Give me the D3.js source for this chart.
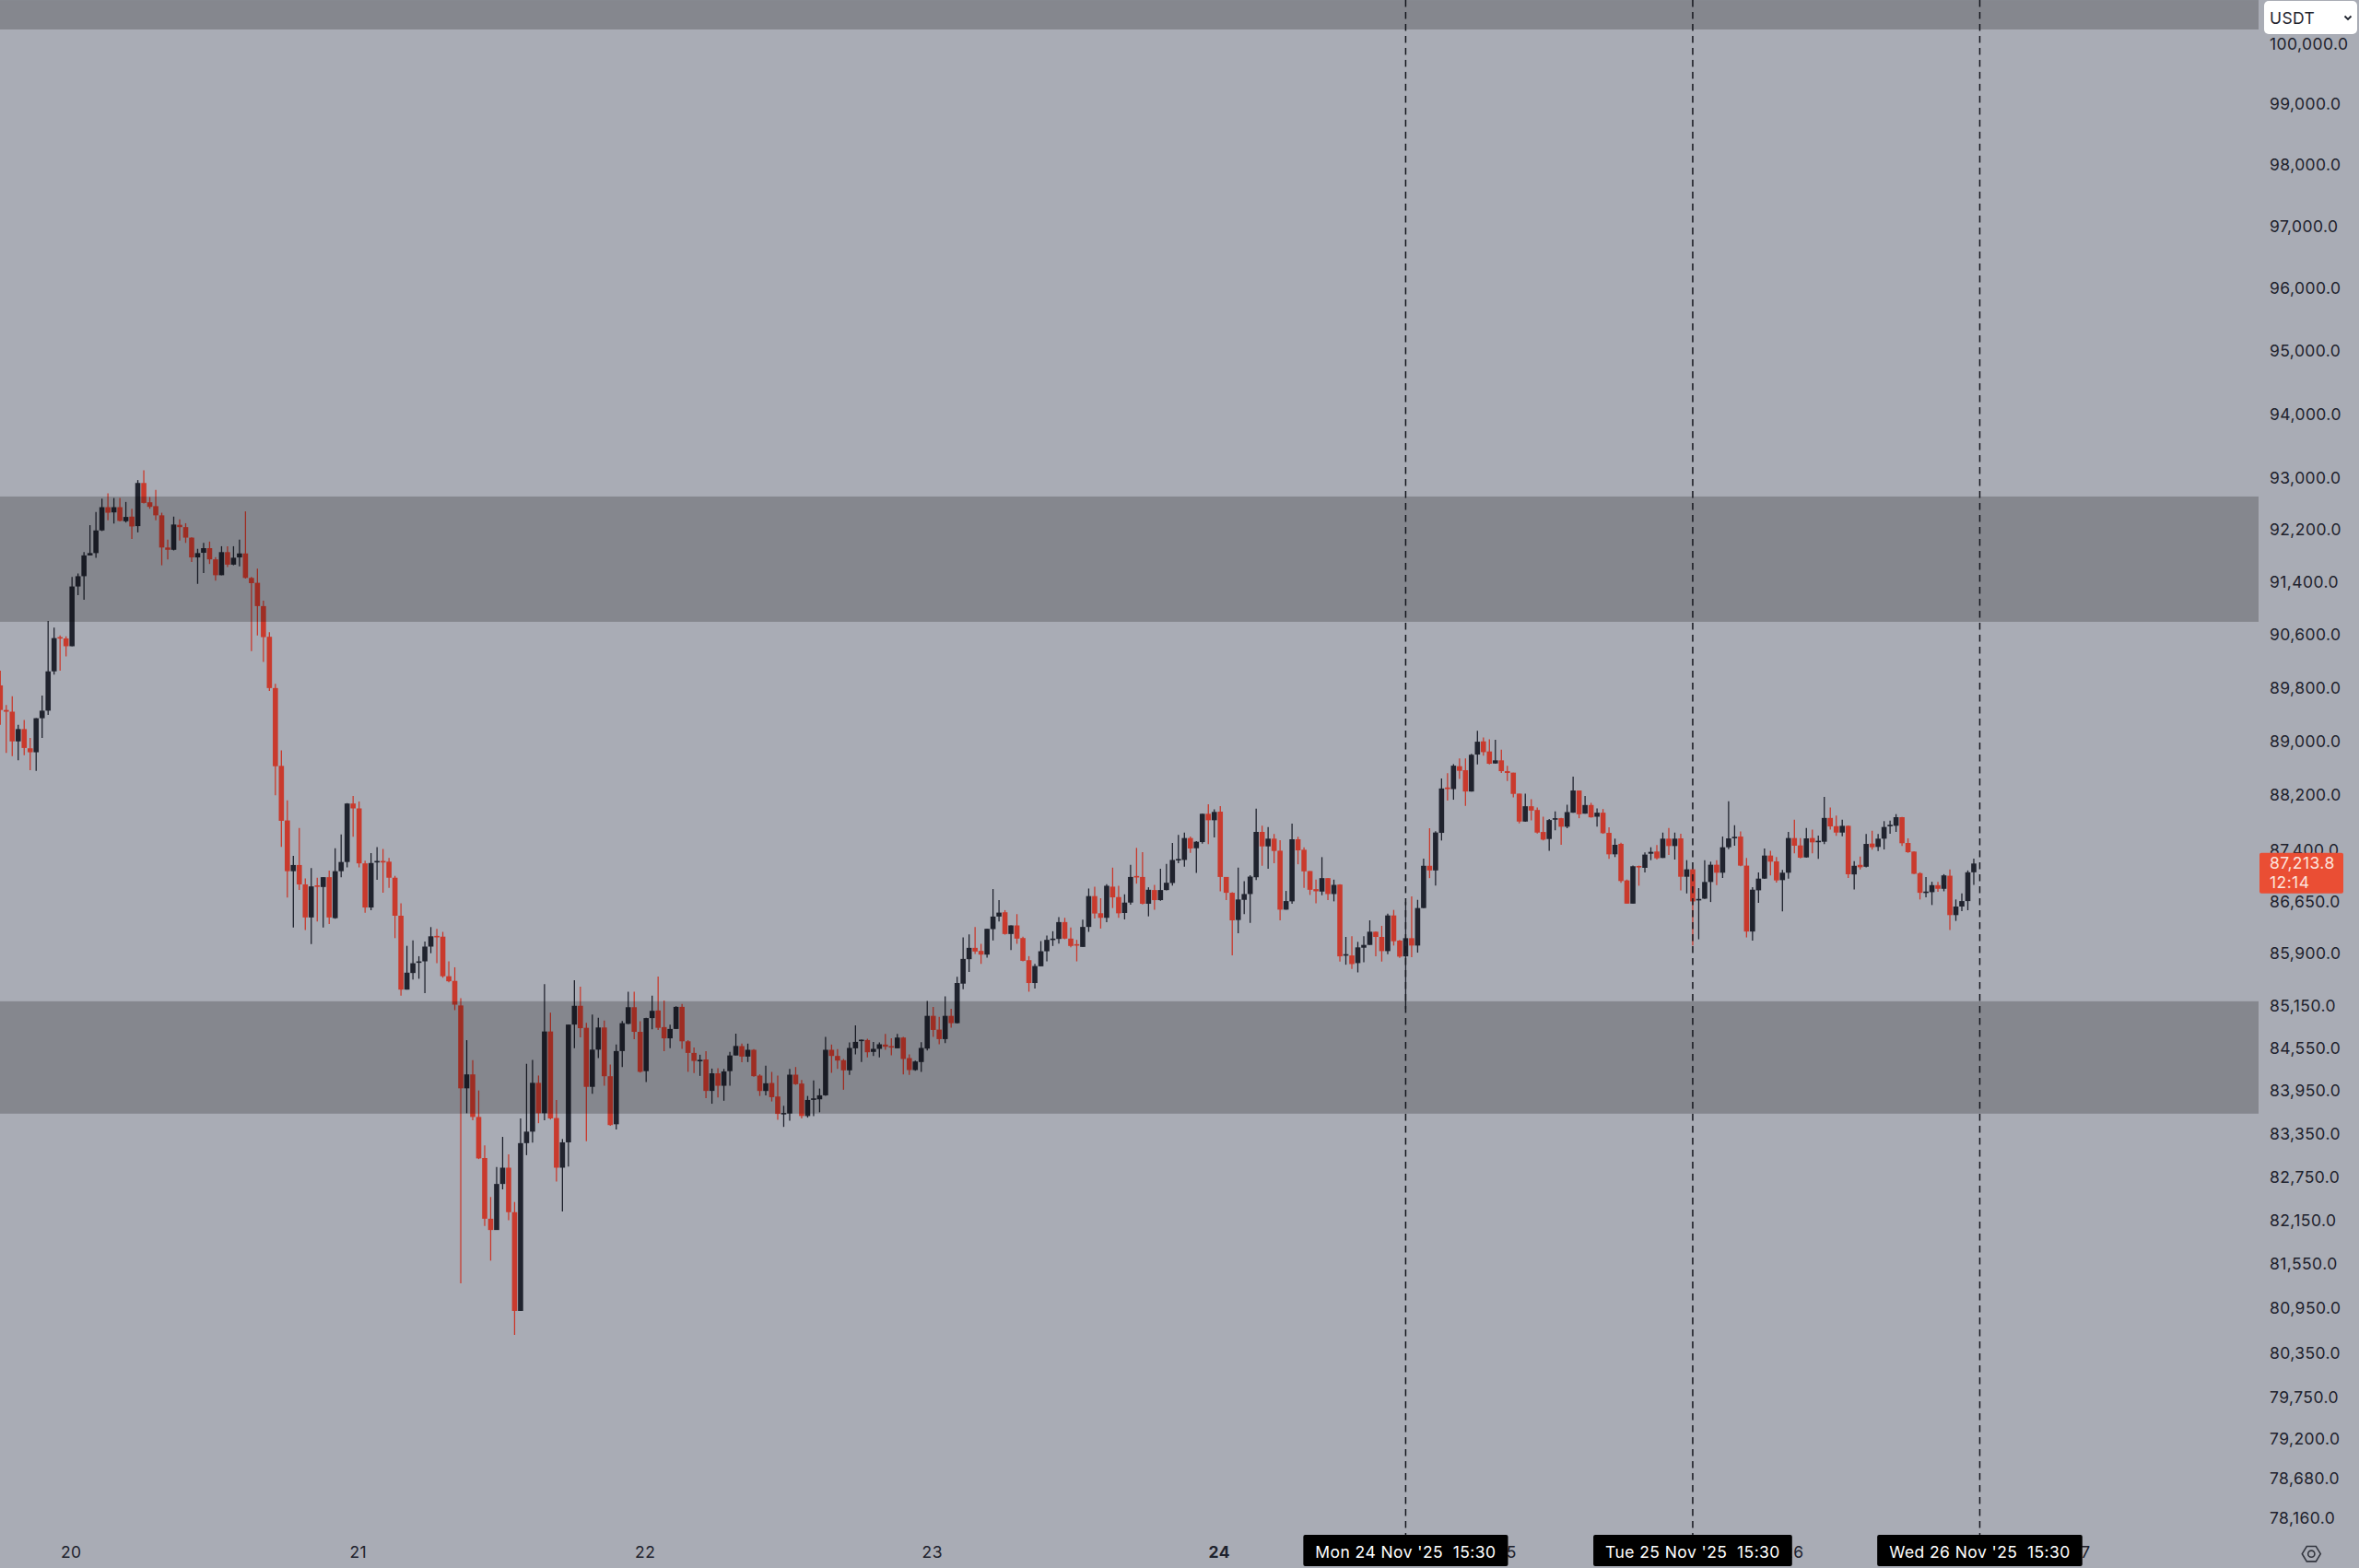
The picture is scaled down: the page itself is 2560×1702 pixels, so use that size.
<!DOCTYPE html>
<html><head><meta charset="utf-8">
<script src="https://cdn.jsdelivr.net/npm/d3@7"></script>
<style>html,body{margin:0;padding:0;background:#a9acb5;overflow:hidden}svg{display:block}text{font-family:Inter,"Noto Sans",sans-serif;letter-spacing:.42px}</style>
</head><body><svg id="c" width="2560" height="1702"></svg>
<script>
const highs=[90071,89555,89687,89260,89333,89063,89358,89697,90822,90721,90603,90588,91495,91545,91874,92289,92492,92699,92780,92709,92709,92648,92542,92987,93139,92724,92836,92481,92066,92421,92380,92319,92102,91925,92016,92036,91798,91965,91965,91965,92066,92502,91495,91621,91130,90652,89874,88880,88141,87327,87734,86996,87149,87006,87015,87111,87437,87638,88098,88203,88122,87255,87365,87453,87426,87294,87034,86636,86022,86101,85873,86085,86292,86265,86223,85799,85714,85272,84676,84393,83967,83200,82485,82900,83318,83074,82416,83576,84342,84398,84177,85473,85067,83833,83288,84897,85529,85437,84923,85041,84995,84953,84332,84614,84948,85365,85365,84943,84995,85308,85581,85241,84897,85159,85190,84676,84573,84470,84522,84275,84280,84270,84511,84768,84627,84627,84549,84194,84315,84228,84176,83752,84271,84297,84116,83890,84107,83994,84722,84614,84549,84410,84644,84886,84683,84696,84652,84644,84765,84704,84765,84722,84475,84388,84648,85233,85146,85007,85299,85120,85578,86143,86188,86294,86051,86271,86842,86683,86537,86316,86479,86152,85874,85763,86090,86170,86232,86435,86426,86285,86108,86400,86850,86877,86709,86912,87154,86890,86766,87194,87442,87379,86868,86903,87136,87208,87514,87631,87667,87608,87541,87942,88081,88009,88054,87018,86797,87154,86956,87045,88018,87766,87748,87644,87554,86815,87798,87604,87451,87104,86979,87307,87001,86979,86912,86150,86159,86079,86159,86389,86230,86310,86487,86540,86106,86655,86735,86686,87284,87730,87685,88463,88540,88675,88760,88760,88828,89172,89072,89045,89036,88890,88649,88549,88239,88239,88157,88035,87899,87864,87976,87881,88075,88490,88285,88203,88103,88021,88012,87743,87577,87519,86981,87183,87183,87375,87451,87483,87666,87734,87666,87648,87263,87138,86856,87263,87241,87263,87608,88125,87774,87684,87295,86869,87084,87433,87398,87308,87120,87675,87855,87586,87734,87711,87622,88189,88035,87917,87855,87769,87248,87316,87644,87694,87644,87834,87843,87937,87897,87582,87392,87086,87018,86948,86948,87059,87127,86691,86779,87113,87285];
const lows=[89260,88841,88792,88733,88807,88585,88576,89063,89407,90012,90071,90288,90440,91216,91146,91824,91788,92198,92365,92314,92345,92330,92077,92178,92623,92542,92365,91672,91763,91900,92051,92016,91722,91388,91555,91692,91439,91520,91646,91672,91657,91469,90366,90603,90204,89766,88213,87456,86718,86287,86828,86249,86048,86373,86287,86335,86412,87015,87159,87604,87159,86498,86536,86976,86790,86859,86133,85308,85395,85539,85550,85344,85916,85772,85565,85498,85102,81303,83648,83550,83009,82086,81612,82031,82590,82166,80605,80929,83064,83237,83509,83550,83561,82700,82286,82905,84563,84717,83257,83920,84424,84033,83473,83422,84296,84902,84691,84218,84085,84830,84820,84522,84563,84835,84552,84229,84213,84172,83859,83781,83869,83823,84033,84460,84366,84367,84159,83890,83899,83813,83557,83457,83544,84046,83574,83587,83609,83661,83890,84215,84271,83977,84185,84475,84367,84432,84453,84432,84540,84462,84561,84194,84185,84245,84228,84531,84722,84618,84635,84852,84912,85401,85648,85905,85763,85852,86099,86373,86183,85962,86051,85799,85365,85410,85728,85799,86020,86055,86117,86002,85799,86006,86223,86417,86271,86364,86567,86425,86403,86615,86921,86620,86447,86544,86673,86824,86894,87217,87167,87370,87078,87505,87496,87595,86810,86682,85884,86203,86478,86354,86974,87181,87136,87217,86389,86544,86629,87203,86859,86757,86637,86753,86682,86664,85796,85751,85689,85641,85787,86035,85871,85796,85902,86026,85849,85118,85858,85924,86567,87001,86894,87550,88135,88149,88455,88058,88270,88672,88799,88672,88681,88544,88426,88185,87801,87823,87846,87653,87550,87398,87698,87487,87729,87958,87877,87944,87886,87752,87648,87281,87308,86932,86631,86631,86891,87084,87263,87272,87295,87339,87272,86824,86779,86027,86116,86699,86654,86900,87003,87424,87474,87174,86143,86098,86644,86990,87039,86936,86520,86994,87362,87290,87299,87362,87281,87496,87711,87617,87612,87003,86837,87127,87159,87415,87397,87419,87649,87676,87469,87370,87060,86691,86722,86611,86801,86810,86248,86381,86522,86536,86903];
const opens=[89850,89481,89456,89013,89196,88910,88851,89358,89471,90061,90578,90558,90440,91348,91505,91824,91859,92208,92567,92486,92567,92350,92421,92274,92942,92643,92583,92441,91945,91910,92294,92259,92097,91793,91864,91935,91763,91520,91874,91682,91793,91854,91479,91404,91049,90583,89810,88649,87844,87102,87192,86910,86431,86896,86872,87015,86421,87102,87236,88093,88021,87216,86575,87241,87251,87241,87007,86456,85395,85632,85778,85799,86011,86165,86154,85586,85519,85169,83997,84193,83596,83024,82186,82031,82665,82890,82276,80929,83231,83391,84074,83648,84799,83581,82890,83242,84897,85164,84851,84018,84542,84856,84167,83494,84522,84907,85144,84794,84239,84989,85097,84861,84702,84835,85149,84660,84496,84383,84403,83961,84208,84033,84239,84460,84592,84444,84540,84176,83960,84072,83882,83644,83644,84189,84064,83609,83843,83843,83899,84540,84453,84393,84250,84561,84674,84678,84510,84553,84614,84592,84561,84713,84423,84254,84367,84557,85021,84826,84691,85021,84917,85480,85830,85993,85949,85896,86263,86444,86506,86192,86316,86134,85816,85489,85728,85944,86112,86121,86364,86126,86046,86006,86294,86740,86492,86426,86877,86726,86496,86646,87032,87018,86629,86828,86682,86828,86930,87266,87266,87586,87437,87527,87942,87847,87973,87018,86788,86394,86686,86770,87014,87676,87464,87577,87401,86544,86664,87568,87415,87104,86841,86806,87001,86770,86908,85884,85884,85774,85995,86035,86225,86150,85946,86460,86097,85871,86132,86026,86567,87181,87113,87662,88329,88306,88644,88585,88270,88817,89013,88863,88685,88731,88571,88549,88239,87828,88053,87998,87675,87572,87855,87877,87752,87958,88285,87944,88071,87899,87958,87662,87348,87501,86968,86631,87178,87151,87357,87389,87295,87577,87469,87581,87021,87129,86681,86703,86945,87196,87080,87451,87590,87608,87183,86228,86824,86994,87330,87245,86972,87080,87586,87478,87303,87586,87532,87532,87881,87760,87666,87765,87055,87194,87167,87505,87456,87577,87766,87766,87892,87514,87388,87073,86788,86797,86899,86846,87036,86465,86589,86668,87086];
const closes=[89481,89456,89013,89196,88915,88851,89358,89471,90061,90563,90563,90440,91348,91505,91824,91859,92208,92567,92481,92567,92355,92416,92269,92942,92633,92572,92441,91945,91910,92299,92259,92097,91793,91859,91935,91763,91520,91874,91682,91788,91854,91479,91399,91049,90578,89810,88644,87839,87102,87192,86910,86431,86881,86881,87015,86431,87102,87236,88093,88021,87216,86575,87221,87251,87241,87007,86456,85395,85637,85772,85799,86011,86159,86154,85586,85514,85180,83997,84193,83596,83019,82186,82031,82665,82890,82276,80929,83231,83391,84074,83648,84799,83576,82890,83242,84897,85164,84846,84018,84542,84856,84167,83483,84522,84917,85144,84794,84229,84989,85092,84851,84702,84835,85149,84660,84496,84383,84398,83961,84208,84033,84234,84460,84594,84444,84540,84168,83960,84068,83873,83639,83652,84189,84055,83609,83834,83856,83899,84540,84453,84388,84250,84566,84652,84683,84505,84553,84618,84583,84579,84713,84410,84254,84375,84566,85021,84821,84691,85021,84917,85489,85834,85993,85940,85896,86267,86444,86501,86192,86316,86126,85807,85489,85732,85944,86108,86126,86364,86126,86020,86033,86294,86740,86488,86426,86890,86722,86491,86646,87018,87018,86629,86832,86682,86828,86934,87266,87280,87586,87433,87532,87942,87847,87969,87018,86788,86389,86691,86770,87023,87676,87464,87577,87397,86544,86668,87568,87406,87100,86832,86810,87001,86770,86903,85871,85902,85760,86000,86035,86225,86150,85946,86460,86088,85867,86132,86026,86567,87181,87113,87667,88315,88306,88652,88576,88270,88814,89008,88853,88681,88731,88571,88544,88235,87828,88053,87989,87666,87563,87850,87877,87752,87967,88285,87935,88071,87890,87958,87657,87348,87487,86959,86631,87174,87169,87344,87384,87290,87577,87469,87577,87021,87129,86663,86699,86945,87196,87080,87451,87581,87604,87183,86228,86833,86994,87330,87241,86968,87080,87586,87474,87299,87581,87523,87546,87881,87756,87666,87765,87057,87181,87159,87500,87451,87577,87748,87780,87892,87510,87379,87064,86788,86806,86899,86846,87041,86465,86589,86668,87086,87213.8];
const priceTicks=[100000,99000,98000,97000,96000,95000,94000,93000,92200,91400,90600,89800,89000,88200,87400,86650,85900,85150,84550,83950,83350,82750,82150,81550,80950,80350,79750,79200,78680,78160];
const dayTickIndex=[12,60,108,156,204,252,300,348];
const dayTickLabels=["20","21","22","23","24","25","26","27"];
const markerIndex=[235,283,331];
const markerLabels=["Mon 24 Nov '25\u00a0\u00a015:30","Tue 25 Nov '25\u00a0\u00a015:30","Wed 26 Nov '25\u00a0\u00a015:30"];
const bandTops=[100757,92732,85228];
const bandBottoms=[100262,90810,83642];
const lastPrice=87213.8, lastPriceText="87,213.8", countdownText="12:14", unitText="USDT";

const W=2560,H=1702,plotRight=2451,axisTextX=2463;
const svg=d3.select("#c");
svg.append("rect").attr("width",W).attr("height",H).attr("fill","#a9acb5");
const x=d3.scaleLinear().domain([0,348]).range([0.3,2258.8]);
const y=d3.scaleLog().domain([100000,78160]).range([49,1649]);
const idx=d3.range(highs.length);
const RED="#c93a2d",DARK="#20232e",INK="#1e222d";

const cg=svg.append("g");
cg.selectAll("line.w").data(idx).join("line").attr("class","w")
 .attr("x1",i=>x(i)).attr("x2",i=>x(i)).attr("y1",i=>y(highs[i])).attr("y2",i=>y(lows[i]))
 .attr("stroke",i=>closes[i]>=opens[i]?DARK:RED).attr("stroke-width",1.3);
cg.selectAll("rect.b").data(idx).join("rect").attr("class","b")
 .attr("x",i=>x(i)-2.8).attr("width",5.6)
 .attr("y",i=>y(Math.max(opens[i],closes[i])))
 .attr("height",i=>Math.max(1.6,y(Math.min(opens[i],closes[i]))-y(Math.max(opens[i],closes[i]))))
 .attr("fill",i=>closes[i]>=opens[i]?DARK:RED);

svg.append("g").selectAll("rect").data(d3.range(bandTops.length)).join("rect")
 .attr("x",0).attr("width",plotRight)
 .attr("y",i=>y(bandTops[i])).attr("height",i=>y(bandBottoms[i])-y(bandTops[i]))
 .attr("fill","#000").attr("fill-opacity",0.21);

svg.append("g").selectAll("line").data(markerIndex).join("line")
 .attr("x1",d=>x(d)).attr("x2",d=>x(d)).attr("y1",0).attr("y2",1666)
 .attr("stroke","#14161d").attr("stroke-width",1.5).attr("stroke-dasharray","7.5 5.5");

const ya=svg.append("g").attr("transform",`translate(${axisTextX},-1)`)
 .call(d3.axisRight(y).tickValues(priceTicks).tickSize(0).tickPadding(0).tickFormat(d3.format(",.1f")));
ya.select(".domain").remove();
ya.selectAll("text").attr("font-size",17.5).attr("fill",INK).style("font-family","Inter,sans-serif");

const xa=svg.append("g").attr("transform","translate(-1.5,1685)")
 .call(d3.axisBottom(x).tickValues(dayTickIndex).tickSize(0).tickPadding(0).tickFormat(d=>dayTickLabels[dayTickIndex.indexOf(d)]));
xa.select(".domain").remove();
xa.selectAll("text").attr("dy","0.36em").attr("font-size",17.5).attr("fill",INK)
 .attr("font-weight",d=>dayTickLabels[dayTickIndex.indexOf(d)]==="24"?700:400).style("font-family","Inter,sans-serif");

const mg=svg.append("g");
markerIndex.forEach((m,k)=>{
  const g=mg.append("g");
  const t=g.append("text").attr("x",x(m)).attr("y",1685).attr("dy","0.36em").attr("text-anchor","middle")
   .attr("font-size",17.5).attr("fill","#fff").text(markerLabels[k]);
  const w=t.node().getComputedTextLength()+26;
  g.insert("rect","text").attr("x",x(m)-w/2).attr("y",1666).attr("width",w).attr("height",34).attr("rx",2).attr("fill","#000");
});

const ly=y(lastPrice);
svg.append("rect").attr("x",2452).attr("y",ly-11.5).attr("width",91).attr("height",44).attr("rx",2).attr("fill","#ea4e34");
svg.append("text").attr("x",axisTextX).attr("y",ly-1).attr("dy","0.36em").attr("font-size",17.5).attr("fill","#fde3dc").text(lastPriceText);
svg.append("text").attr("x",axisTextX).attr("y",ly+20).attr("dy","0.36em").attr("font-size",17.5).attr("fill","#fde3dc").text(countdownText);

svg.append("rect").attr("x",2457).attr("y",1).attr("width",101).attr("height",36).attr("rx",5).attr("fill","#fff");
svg.append("text").attr("x",2463).attr("y",20).attr("dy","0.36em").attr("font-size",17.5).attr("fill",INK).text(unitText);
svg.append("path").attr("d","M2544.5 17.5 L2548 21 L2551.5 17.5").attr("fill","none").attr("stroke",INK).attr("stroke-width",1.8);

const hex=d3.range(6).map(k=>{const a=k*Math.PI/3;return [2508.3+10*Math.cos(a),1686.7+9.4*Math.sin(a)];});
svg.append("path").attr("d",d3.line().curve(d3.curveLinearClosed)(hex)).attr("fill","none").attr("stroke","#33363f").attr("stroke-width",1.6);
svg.append("circle").attr("cx",2508.3).attr("cy",1686.7).attr("r",3.6).attr("fill","none").attr("stroke","#33363f").attr("stroke-width",1.6);
</script></body></html>
